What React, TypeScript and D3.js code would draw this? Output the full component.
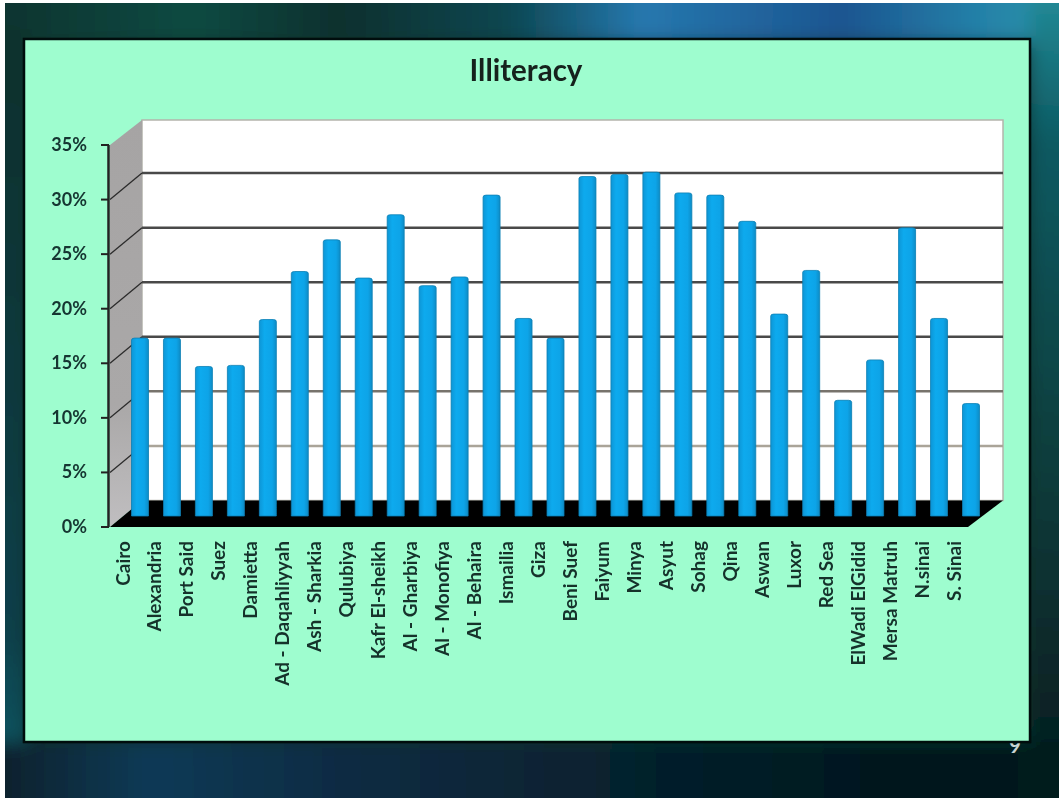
import React from "react";
import * as d3 from "d3";

const categories = ["Cairo","Alexandria","Port Said","Suez","Damietta","Ad - Daqahliyyah","Ash - Sharkia","Qulubiya","Kafr El-sheikh","Al - Gharbiya","Al - Monofiya","Al - Behaira","Ismailia","Giza","Beni Suef","Faiyum","Minya","Asyut","Sohag","Qina","Aswan","Luxor","Red Sea","ElWadi ElGidid","Mersa Matruh","N.sinai","S. Sinai"];
const illiteracy = [16.3,16.3,13.7,13.8,18.0,22.4,25.3,21.8,27.6,21.1,21.9,29.4,18.1,16.3,31.1,31.3,31.5,29.6,29.4,27.0,18.5,22.5,10.6,14.3,26.4,18.1,10.3];
const yTicks = [0,5,10,15,20,25,30,35];
const gridTone: Record<number, string> = { 5: "#aaa498", 10: "#77736c", 15: "#4a4a48", 20: "#4a4a48", 25: "#4a4a48", 30: "#4a4a48" };
const title = "Illiteracy";

const W = 1059, H = 798;
const y = d3.scaleLinear().domain([0, 35]).range([527, 145]);
const x = d3.scalePoint<string>().domain(categories).range([140, 971]);
const depthX = 32, depthY = 26.5, barLift = 11, barW = 17;
const wallL = 110 + depthX, wallR = 1003, frontR = 968, wallTop = 120;
const font = "Lato, 'Open Sans', sans-serif";

export default function App() {
  const barPath = (c: string, v: number) => {
    const cx = x(c)!, top = y(v) - barLift, base = y(0) - barLift, l = cx - barW / 2, r = cx + barW / 2;
    const p = d3.path();
    p.moveTo(l, base); p.lineTo(l, top + 2);
    p.quadraticCurveTo(l, top, l + 3, top);
    p.lineTo(r - 3, top);
    p.quadraticCurveTo(r, top, r, top + 2);
    p.lineTo(r, base); p.closePath();
    return p.toString();
  };
  return (
    <svg width={W} height={H} viewBox={`0 0 ${W} ${H}`} style={{ position: "absolute", left: 0, top: 0, display: "block" }}>
      <defs>
        <linearGradient id="bgTop" x1="0" x2="1" y1="0" y2="0">
          <stop offset="0" stopColor="#07302c" />
          <stop offset="0.2" stopColor="#0d4a42" />
          <stop offset="0.33" stopColor="#07302e" />
          <stop offset="0.48" stopColor="#0c4650" />
          <stop offset="0.6" stopColor="#2678ae" />
          <stop offset="0.78" stopColor="#1c5590" />
          <stop offset="0.9" stopColor="#2480a8" />
          <stop offset="1" stopColor="#2a9aa8" />
        </linearGradient>
        <linearGradient id="bgRight" x1="0" x2="0" y1="0" y2="1">
          <stop offset="0" stopColor="#26929f" />
          <stop offset="0.2" stopColor="#0c5a62" />
          <stop offset="0.55" stopColor="#0a3f3e" />
          <stop offset="0.9" stopColor="#061f22" />
          <stop offset="1" stopColor="#04161a" />
        </linearGradient>
        <linearGradient id="bgLeft" x1="0" x2="0" y1="0" y2="1">
          <stop offset="0" stopColor="#07302c" />
          <stop offset="0.75" stopColor="#0b3f4a" />
          <stop offset="0.9" stopColor="#0c5460" />
          <stop offset="1" stopColor="#05181f" />
        </linearGradient>
        <linearGradient id="bgBottom" x1="0" x2="1" y1="0" y2="0">
          <stop offset="0" stopColor="#051c24" />
          <stop offset="0.16" stopColor="#0f3a56" />
          <stop offset="0.32" stopColor="#0b2c44" />
          <stop offset="0.6" stopColor="#06202c" />
          <stop offset="0.85" stopColor="#04161c" />
          <stop offset="1" stopColor="#061c20" />
        </linearGradient>
        <linearGradient id="barFill" x1="0" x2="1" y1="0" y2="0">
          <stop offset="0" stopColor="#0a96d6" />
          <stop offset="0.3" stopColor="#08aaee" />
          <stop offset="0.75" stopColor="#08a4e8" />
          <stop offset="1" stopColor="#0a8cc6" />
        </linearGradient>
        <linearGradient id="sideWall" x1="0" x2="0" y1="0" y2="1">
          <stop offset="0" stopColor="#a6a4a4" />
          <stop offset="0.7" stopColor="#aaa8a8" />
          <stop offset="1" stopColor="#c0bec0" />
        </linearGradient>
        <filter id="soft" x="-5%" y="-5%" width="110%" height="110%"><feGaussianBlur stdDeviation="0.7" /></filter>
        <filter id="wide" x="-5%" y="-5%" width="110%" height="110%"><feGaussianBlur stdDeviation="9" /></filter>
        <clipPath id="bgClip"><rect x={5} y={3} width={W - 5} height={H - 3} /></clipPath>
      </defs>

      <rect width={W} height={H} fill="#fff" />
      <g clipPath="url(#bgClip)">
        <g filter="url(#wide)">
          <rect x={-30} y={-30} width={W + 60} height={H + 60} fill="#07302c" />
          <rect x={-30} y={-30} width={W + 60} height={72} fill="url(#bgTop)" />
          <rect x={-30} y={30} width={56} height={H} fill="url(#bgLeft)" />
          <rect x={1030} y={-30} width={60} height={H + 60} fill="url(#bgRight)" />
          <rect x={-30} y={742} width={W + 60} height={90} fill="url(#bgBottom)" />
        </g>
      </g>
      <text x={1015} y={753} fontFamily={font} fontWeight={700} fontSize={20} fill="#c8d4d4" textAnchor="middle">9</text>

      <g filter="url(#soft)">
        <rect x={24} y={39} width={1006} height={703} fill="#9efdcf" stroke="#03100f" strokeWidth={2.5} />

        <text x={526} y={81} textAnchor="middle" fontFamily={font} fontWeight={700} fontSize={29.5} fill="#14201d">{title}</text>

        {/* back wall, side wall and floor */}
        <rect x={wallL} y={wallTop} width={wallR - wallL} height={y(0) - depthY - wallTop} fill="#ffffff" stroke="#b4b4ac" strokeWidth={1.5} />
        <polygon points={`110,${y(35)} ${wallL},${wallTop} ${wallL},${y(0) - depthY} 110,${y(0)}`} fill="url(#sideWall)" />
        {yTicks.slice(1, -1).map(t => (
          <g key={t}>
            <line x1={wallL} x2={wallR} y1={y(t) - depthY} y2={y(t) - depthY} stroke={gridTone[t]} strokeWidth={2.5} />
            <line x1={110} x2={wallL} y1={y(t)} y2={y(t) - depthY} stroke="#2c2c2c" strokeWidth={1.3} />
          </g>
        ))}
        <polygon points={`110,${y(0)} ${wallL},${y(0) - depthY} ${wallR},${y(0) - depthY} ${frontR},${y(0)}`} fill="#000" />

        {/* value axis */}
        <line x1={108.5} x2={108.5} y1={y(35)} y2={y(0)} stroke="#222" strokeWidth={2.5} />
        {yTicks.map(t => (
          <g key={t}>
            <line x1={101} x2={109} y1={y(t)} y2={y(t)} stroke="#222" strokeWidth={2} />
            <text x={87} y={y(t) + 6} textAnchor="end" fontFamily={font} fontWeight={700} fontSize={18} fill="#143530">{t}%</text>
          </g>
        ))}

        {/* bars */}
        {categories.map((c, i) => (
          <path key={c} d={barPath(c, illiteracy[i])} fill="url(#barFill)" stroke="#0a7fb4" strokeWidth={0.8} />
        ))}

        {/* category labels */}
        {categories.map(c => (
          <text key={c} transform={`translate(${x(c)! - 10.5},541) rotate(-90)`} textAnchor="end" fontFamily={font} fontWeight={700} fontSize={19} fill="#13302b">{c}</text>
        ))}
      </g>
    </svg>
  );
}
